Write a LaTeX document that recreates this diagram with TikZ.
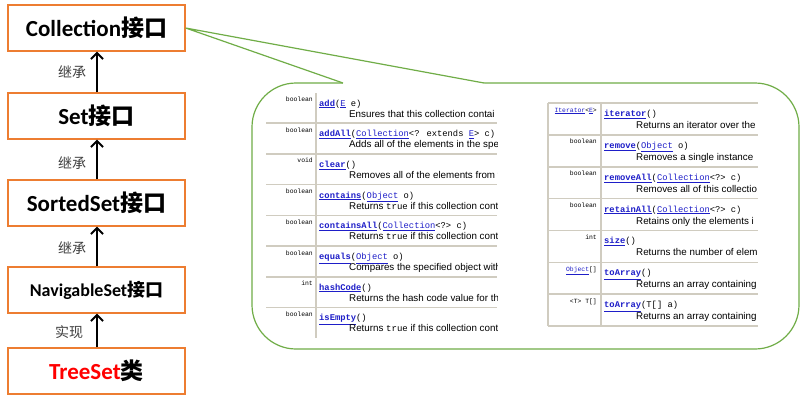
\documentclass[tikz,border=0pt]{standalone}
\usepackage{fontspec}
\setmainfont{Carlito}
\newfontfamily\cjk{Noto Sans CJK SC}
\newfontfamily\monof{Liberation Mono}
\newfontfamily\descf{Liberation Sans}
\usetikzlibrary{arrows.meta}
\definecolor{boxor}{RGB}{237,125,49}
\definecolor{callg}{RGB}{112,173,71}
\definecolor{lb}{RGB}{30,30,200}
\definecolor{gridc}{RGB}{208,204,192}
\definecolor{lblc}{RGB}{64,64,64}
\newcommand\lk[1]{\textcolor{lb}{\underline{#1}}}
\newcommand\mn[1]{\lk{\bfseries #1}}
\newcommand\tru{{\monof\fontsize{9}{10}\selectfont true}}
\begin{document}
\begin{tikzpicture}[x=1pt,y=-1pt,
 box/.style={draw=boxor,line width=1.3pt,minimum width=177pt,minimum height=46pt,inner sep=0pt,fill=white},
 arr/.style={line width=2.2pt,-{Straight Barb[length=6pt,width=12pt,line width=2pt]}},
 lbl/.style={font=\cjk\fontsize{14}{16}\selectfont,text=lblc,inner sep=0pt},
 typ/.style={anchor=base east,inner sep=0pt,font=\monof\fontsize{6.4}{7}\selectfont},
 mt/.style={anchor=base west,inner sep=0pt,font=\monof\fontsize{8.8}{10}\selectfont},
 ds/.style={anchor=base west,inner sep=0pt,font=\descf\fontsize{9.8}{11}\selectfont},
 gridl/.style={draw=gridc,line width=1.6pt},
 callout/.style={draw=callg,line width=1.2pt}]
\useasboundingbox (0,0) rectangle (807,405);
\fill[white] (0,0) rectangle (807,405);
% left boxes
\node[box] (coll) at (96.5,28) {\fontsize{23}{26}\selectfont\bfseries Collection{\cjk 接口}};
\node[box] (set) at (96.5,116) {\fontsize{23}{26}\selectfont\bfseries Set{\cjk 接口}};
\node[box] (sset) at (96.5,203) {\fontsize{23}{26}\selectfont\bfseries SortedSet{\cjk 接口}};
\node[box] (nset) at (96.5,290) {\fontsize{18}{21}\selectfont\bfseries NavigableSet{\cjk 接口}};
\node[box] (tset) at (96.5,371) {\fontsize{23}{26}\selectfont\bfseries\textcolor{red}{TreeSet}{\cjk 类}};
\draw[arr] (set.north -| 97,0) -- (coll.south -| 97,0);
\draw[arr] (sset.north -| 97,0) -- (set.south -| 97,0);
\draw[arr] (nset.north -| 97,0) -- (sset.south -| 97,0);
\draw[arr] (tset.north -| 97,0) -- (nset.south -| 97,0);
\node[lbl] (l1) at (72,72) {继承};
\node[lbl] (l2) at (72,163) {继承};
\node[lbl] (l3) at (72,248) {继承};
\node[lbl] (l4) at (69,332) {实现};
% callout
\node[callout,rounded corners=44pt,minimum width=547pt,minimum height=266pt,inner sep=0pt] (call) at (525.5,216) {};
\coordinate (apex) at (coll.east);
\coordinate (t1) at (343,83);
\coordinate (t2) at (484,83);
\fill[white] (apex) -- (t1) -- ([yshift=-1.5pt]t1) -- ([yshift=-1.5pt]t2) -- (t2) -- cycle;
\draw[callout,line join=miter] (t1) -- (apex) -- (t2);
% left table
\draw[gridl] (316,93) -- (316,338);
\foreach \i in {1,...,7} \draw[gridl] (266,92.5+30.7*\i) -- (497,92.5+30.7*\i);
\begin{scope}
\clip (266,88) rectangle (497,340);
\node[typ] (a0) at (313,92.5+9) {boolean};
\node[mt] (b0) at (319,92.5+13.5) {\mn{add}(\lk{E} e)};
\node[ds] (c0) at (349,92.5+24.5) {Ensures that this collection contai};
\node[typ] (a1) at (313,92.5+30.7+9) {boolean};
\node[mt] (b1) at (319,92.5+30.7+13.5) {\mn{addAll}(\lk{Collection}<? extends \lk{E}> c)};
\node[ds] (c1) at (349,92.5+30.7+24.5) {Adds all of the elements in the spe};
\node[typ] (a2) at (313,92.5+61.4+9) {void};
\node[mt] (b2) at (319,92.5+61.4+13.5) {\mn{clear}()};
\node[ds] (c2) at (349,92.5+61.4+24.5) {Removes all of the elements from t};
\node[typ] (a3) at (313,92.5+92.1+9) {boolean};
\node[mt] (b3) at (319,92.5+92.1+13.5) {\mn{contains}(\lk{Object} o)};
\node[ds] (c3) at (349,92.5+92.1+24.5) {Returns \tru{} if this collection cont};
\node[typ] (a4) at (313,92.5+122.8+9) {boolean};
\node[mt] (b4) at (319,92.5+122.8+13.5) {\mn{containsAll}(\lk{Collection}<?> c)};
\node[ds] (c4) at (349,92.5+122.8+24.5) {Returns \tru{} if this collection cont};
\node[typ] (a5) at (313,92.5+153.5+9) {boolean};
\node[mt] (b5) at (319,92.5+153.5+13.5) {\mn{equals}(\lk{Object} o)};
\node[ds] (c5) at (349,92.5+153.5+24.5) {Compares the specified object with};
\node[typ] (a6) at (313,92.5+184.2+9) {int};
\node[mt] (b6) at (319,92.5+184.2+13.5) {\mn{hashCode}()};
\node[ds] (c6) at (349,92.5+184.2+24.5) {Returns the hash code value for thi};
\node[typ] (a7) at (313,92.5+214.9+9) {boolean};
\node[mt] (b7) at (319,92.5+214.9+13.5) {\mn{isEmpty}()};
\node[ds] (c7) at (349,92.5+214.9+24.5) {Returns \tru{} if this collection cont};
\end{scope}
% right table
\draw[gridl] (548,103) -- (548,326);
\draw[gridl] (601,103) -- (601,326);
\foreach \i in {0,...,7} \draw[gridl] (548,103+31.86*\i) -- (758,103+31.86*\i);
\begin{scope}
\clip (548,98) rectangle (758,330);
\node[typ] (d0) at (597,103+9) {\lk{Iterator}<\lk{E}>};
\node[mt] (e0) at (604,103+13.5) {\mn{iterator}()};
\node[ds] (f0) at (636,103+25.5) {Returns an iterator over the};
\node[typ] (d1) at (597,103+31.86+9) {boolean};
\node[mt] (e1) at (604,103+31.86+13.5) {\mn{remove}(\lk{Object} o)};
\node[ds] (f1) at (636,103+31.86+25.5) {Removes a single instance};
\node[typ] (d2) at (597,103+63.72+9) {boolean};
\node[mt] (e2) at (604,103+63.72+13.5) {\mn{removeAll}(\lk{Collection}<?> c)};
\node[ds] (f2) at (636,103+63.72+25.5) {Removes all of this collectio};
\node[typ] (d3) at (597,103+95.58+9) {boolean};
\node[mt] (e3) at (604,103+95.58+13.5) {\mn{retainAll}(\lk{Collection}<?> c)};
\node[ds] (f3) at (636,103+95.58+25.5) {Retains only the elements i};
\node[typ] (d4) at (597,103+127.44+9) {int};
\node[mt] (e4) at (604,103+127.44+13.5) {\mn{size}()};
\node[ds] (f4) at (636,103+127.44+25.5) {Returns the number of elem};
\node[typ] (d5) at (597,103+159.3+9) {\lk{Object}[]};
\node[mt] (e5) at (604,103+159.3+13.5) {\mn{toArray}()};
\node[ds] (f5) at (636,103+159.3+25.5) {Returns an array containing};
\node[typ] (d6) at (597,103+191.16+9) {<T> T[]};
\node[mt] (e6) at (604,103+191.16+13.5) {\mn{toArray}(T[] a)};
\node[ds] (f6) at (636,103+191.16+25.5) {Returns an array containing};
\end{scope}
\end{tikzpicture}
\end{document}
